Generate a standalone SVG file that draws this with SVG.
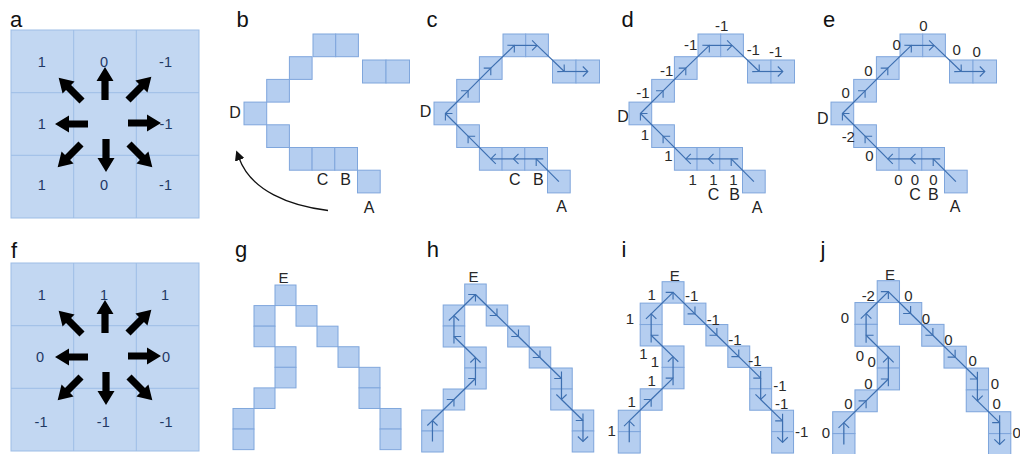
<svg xmlns="http://www.w3.org/2000/svg" xmlns:xlink="http://www.w3.org/1999/xlink" width="1020" height="454" viewBox="0 0 1020 454">
<style>
.bg{fill:#ffffff}
.grid{fill:#c2d7f2;stroke:#9dbde6;stroke-width:1}
.gl{stroke:#9dbde6;stroke-width:1}
.cell{fill:#b5cef0;stroke:#7fa6dc;stroke-width:1}
.conn line{stroke:#3d6fb0;stroke-width:1.2;fill:none;marker-end:url(#chev)}
.pl{font-family:"Liberation Sans",Arial,sans-serif;font-size:22px;fill:#111}
.lt{font-family:"Liberation Sans",Arial,sans-serif;font-size:16px;fill:#222;text-anchor:middle}
.nm{font-family:"Liberation Sans",Arial,sans-serif;font-size:15px;fill:#2a2a2a;text-anchor:middle}
.gn{font-family:"Liberation Sans",Arial,sans-serif;font-size:14.5px;fill:#1f3864;text-anchor:middle}
</style>
<defs>
<marker id="chev" viewBox="-7 -6 8 12" refX="0" refY="0" markerWidth="8" markerHeight="12" markerUnits="userSpaceOnUse" orient="auto">
<path d="M-5,-5 L0,0 L-5,5" fill="none" stroke="#3d6fb0" stroke-width="1.1"/>
</marker>
<marker id="solid" viewBox="0 0 10 10" refX="2" refY="5" markerWidth="10" markerHeight="10" markerUnits="userSpaceOnUse" orient="auto">
<path d="M0,0 L10,5 L0,10 Z" fill="#111"/>
</marker>
<path id="bigArrow" d="M0,-3.6 L19,-3.6 L19,-8.5 L33,0 L19,8.5 L19,3.6 L0,3.6 Z" fill="#000"/>
<g id="grid9">
<rect class="grid" x="11" y="30" width="188" height="188"/>
<line class="gl" x1="73.7" y1="30" x2="73.7" y2="218"/>
<line class="gl" x1="136.3" y1="30" x2="136.3" y2="218"/>
<line class="gl" x1="11" y1="92.7" x2="199" y2="92.7"/>
<line class="gl" x1="11" y1="155.3" x2="199" y2="155.3"/>
<use xlink:href="#bigArrow" transform="translate(105,100) rotate(-90)"/>
<use xlink:href="#bigArrow" transform="translate(106,139) rotate(90)"/>
<use xlink:href="#bigArrow" transform="translate(88,124) rotate(180)"/>
<use xlink:href="#bigArrow" transform="translate(128,123)"/>
<use xlink:href="#bigArrow" transform="translate(82,101) rotate(-135)"/>
<use xlink:href="#bigArrow" transform="translate(128,100) rotate(-45)"/>
<use xlink:href="#bigArrow" transform="translate(81,144) rotate(135)"/>
<use xlink:href="#bigArrow" transform="translate(129,144) rotate(45)"/>
</g>
<g id="topCells">
<rect class="cell" x="0" y="68.1" width="22.7" height="22.7"/>
<rect class="cell" x="22.7" y="45.4" width="22.7" height="22.7"/>
<rect class="cell" x="45.4" y="22.7" width="22.7" height="22.7"/>
<rect class="cell" x="69" y="0" width="22.7" height="22.7"/>
<rect class="cell" x="91.7" y="0" width="22.7" height="22.7"/>
<rect class="cell" x="118.5" y="26" width="23.5" height="23"/>
<rect class="cell" x="142" y="26" width="23.5" height="23"/>
<rect class="cell" x="22.7" y="90.8" width="22.7" height="22.7"/>
<rect class="cell" x="45.4" y="113.5" width="22.7" height="22.7"/>
<rect class="cell" x="68.1" y="113.5" width="22.7" height="22.7"/>
<rect class="cell" x="90.8" y="113.5" width="22.7" height="22.7"/>
<rect class="cell" x="113.5" y="136.2" width="22.7" height="22.7"/>
</g>
<g id="topPath" class="conn">
<line x1="124.9" y1="147.6" x2="102.2" y2="124.9"/>
<line x1="102.2" y1="124.9" x2="79.5" y2="124.9"/>
<line x1="79.5" y1="124.9" x2="56.8" y2="124.9"/>
<line x1="56.8" y1="124.9" x2="34.1" y2="102.2"/>
<line x1="34.1" y1="102.2" x2="11.4" y2="79.5"/>
<line x1="11.4" y1="79.5" x2="34.1" y2="56.8"/>
<line x1="34.1" y1="56.8" x2="56.8" y2="34.1"/>
<line x1="56.8" y1="34.1" x2="80.4" y2="11.4"/>
<line x1="80.4" y1="11.4" x2="103.1" y2="11.4"/>
<line x1="103.1" y1="11.4" x2="130.3" y2="37.5"/>
<line x1="130.3" y1="37.5" x2="153.8" y2="37.5"/>
</g>
<g id="botCells">
<rect class="cell" x="42" y="0" width="21" height="21"/>
<rect class="cell" x="21" y="21" width="21" height="21"/>
<rect class="cell" x="21" y="42" width="21" height="21"/>
<rect class="cell" x="42" y="63" width="21" height="21"/>
<rect class="cell" x="42" y="84" width="21" height="21"/>
<rect class="cell" x="21" y="105" width="21" height="21"/>
<rect class="cell" x="0" y="126" width="21" height="21"/>
<rect class="cell" x="0" y="147" width="21" height="21"/>
<rect class="cell" x="63" y="21" width="21" height="21"/>
<rect class="cell" x="84" y="42" width="21" height="21"/>
<rect class="cell" x="105" y="63" width="21" height="21"/>
<rect class="cell" x="126" y="84" width="21" height="21"/>
<rect class="cell" x="126" y="105" width="21" height="21"/>
<rect class="cell" x="147" y="126" width="21" height="21"/>
<rect class="cell" x="147" y="147" width="21" height="21"/>
</g>
<g id="botPath" class="conn">
<line x1="10.5" y1="157.5" x2="10.5" y2="136.5"/>
<line x1="10.5" y1="136.5" x2="31.5" y2="115.5"/>
<line x1="31.5" y1="115.5" x2="52.5" y2="94.5"/>
<line x1="52.5" y1="94.5" x2="52.5" y2="73.5"/>
<line x1="52.5" y1="73.5" x2="31.5" y2="52.5"/>
<line x1="31.5" y1="52.5" x2="31.5" y2="31.5"/>
<line x1="31.5" y1="31.5" x2="52.5" y2="10.5"/>
<line x1="52.5" y1="10.5" x2="73.5" y2="31.5"/>
<line x1="73.5" y1="31.5" x2="94.5" y2="52.5"/>
<line x1="94.5" y1="52.5" x2="115.5" y2="73.5"/>
<line x1="115.5" y1="73.5" x2="136.5" y2="94.5"/>
<line x1="136.5" y1="94.5" x2="136.5" y2="115.5"/>
<line x1="136.5" y1="115.5" x2="157.5" y2="136.5"/>
<line x1="157.5" y1="136.5" x2="157.5" y2="157.5"/>
</g>
</defs>
<rect class="bg" x="0" y="0" width="1020" height="454"/>

<g id="panel-a">
<text class="pl" x="10" y="26.5">a</text>
<use xlink:href="#grid9"/>
<text class="gn" x="41.7" y="66.7">1</text>
<text class="gn" x="104" y="66.7">0</text>
<text class="gn" x="165.5" y="66.7">-1</text>
<text class="gn" x="41.7" y="129">1</text>
<text class="gn" x="166" y="129">-1</text>
<text class="gn" x="41.7" y="190">1</text>
<text class="gn" x="104" y="190">0</text>
<text class="gn" x="165.5" y="190">-1</text>
</g>

<g id="panel-f">
<text class="pl" x="11" y="258.3">f</text>
<use xlink:href="#grid9" transform="translate(0,233)"/>
<text class="gn" x="41.7" y="300">1</text>
<text class="gn" x="104" y="300">1</text>
<text class="gn" x="165" y="300">1</text>
<text class="gn" x="40" y="361.7">0</text>
<text class="gn" x="166" y="361.7">0</text>
<text class="gn" x="41" y="426.7">-1</text>
<text class="gn" x="103.3" y="426.7">-1</text>
<text class="gn" x="166" y="426.7">-1</text>
</g>

<g id="panel-b">
<text class="pl" x="236.5" y="26.5">b</text>
<use xlink:href="#topCells" transform="translate(244,34)"/>
<text class="lt" x="235" y="118">D</text>
<text class="lt" x="322.5" y="185">C</text>
<text class="lt" x="345.5" y="185">B</text>
<text class="lt" x="369" y="213">A</text>
<path d="M328,210.5 C290,206 251,191 239,158" fill="none" stroke="#111" stroke-width="1.3" marker-end="url(#solid)"/>
</g>

<g id="panel-c">
<text class="pl" x="426.5" y="26.5">c</text>
<use xlink:href="#topCells" transform="translate(434,34)"/>
<g id="connectors-c"><use xlink:href="#topPath" transform="translate(434,34)"/></g>
<text class="lt" x="425.5" y="117">D</text>
<text class="lt" x="514.7" y="184.5">C</text>
<text class="lt" x="538.3" y="184.5">B</text>
<text class="lt" x="561.7" y="212">A</text>
</g>

<g id="panel-d">
<text class="pl" x="621.5" y="26.5">d</text>
<use xlink:href="#topCells" transform="translate(629,34)"/>
<g id="connectors-d"><use xlink:href="#topPath" transform="translate(629,34)"/></g>
<text class="lt" x="623" y="121.7">D</text>
<text class="lt" x="713.5" y="200">C</text>
<text class="lt" x="734.7" y="200">B</text>
<text class="lt" x="757" y="213">A</text>
<text class="nm" x="721.7" y="30.7">-1</text>
<text class="nm" x="690.7" y="50">-1</text>
<text class="nm" x="753.3" y="55">-1</text>
<text class="nm" x="775.7" y="56.7">-1</text>
<text class="nm" x="666.7" y="76">-1</text>
<text class="nm" x="643" y="98.3">-1</text>
<text class="nm" x="645" y="140">1</text>
<text class="nm" x="668.3" y="160.7">1</text>
<text class="nm" x="692.7" y="185">1</text>
<text class="nm" x="713.3" y="185">1</text>
<text class="nm" x="733.3" y="185">1</text>
</g>

<g id="panel-e">
<text class="pl" x="823" y="26.5">e</text>
<use xlink:href="#topCells" transform="translate(831,34)"/>
<g id="connectors-e"><use xlink:href="#topPath" transform="translate(831,34)"/></g>
<text class="lt" x="822.7" y="124">D</text>
<text class="lt" x="915" y="200">C</text>
<text class="lt" x="933.3" y="200">B</text>
<text class="lt" x="955" y="211.7">A</text>
<text class="nm" x="923.3" y="30.7">0</text>
<text class="nm" x="896.7" y="50">0</text>
<text class="nm" x="956.7" y="55">0</text>
<text class="nm" x="976.7" y="56.7">0</text>
<text class="nm" x="868.3" y="76">0</text>
<text class="nm" x="845.7" y="98.3">0</text>
<text class="nm" x="848.3" y="141.7">-2</text>
<text class="nm" x="869.3" y="160.7">0</text>
<text class="nm" x="898.3" y="185">0</text>
<text class="nm" x="915" y="185">0</text>
<text class="nm" x="933.3" y="185">0</text>
</g>

<g id="panel-g">
<text class="pl" x="235" y="256.7">g</text>
<use xlink:href="#botCells" transform="translate(233,285) scale(1,0.98)"/>
<text class="nm" x="283.5" y="283">E</text>
</g>

<g id="panel-h">
<text class="pl" x="426.7" y="256.7">h</text>
<use xlink:href="#botCells" transform="translate(421.7,284) scale(1.024,1)"/>
<g id="connectors-h"><use xlink:href="#botPath" transform="translate(421.7,284) scale(1.024,1)"/></g>
<text class="nm" x="473.5" y="281.7">E</text>
</g>

<g id="panel-i">
<text class="pl" x="621.5" y="256.7">i</text>
<use xlink:href="#botCells" transform="translate(618.3,281.7) scale(1.043,1.02)"/>
<g id="connectors-i"><use xlink:href="#botPath" transform="translate(618.3,281.7) scale(1.043,1.02)"/></g>
<text class="nm" x="674.7" y="280.7">E</text>
<text class="nm" x="651.7" y="300">1</text>
<text class="nm" x="691.7" y="300.7">-1</text>
<text class="nm" x="630" y="324">1</text>
<text class="nm" x="713.3" y="325">-1</text>
<text class="nm" x="735" y="345">-1</text>
<text class="nm" x="643.3" y="359.3">1</text>
<text class="nm" x="655" y="367.3">1</text>
<text class="nm" x="755" y="366">-1</text>
<text class="nm" x="651.7" y="386">1</text>
<text class="nm" x="780" y="390.7">-1</text>
<text class="nm" x="631.7" y="406.7">1</text>
<text class="nm" x="781.7" y="409.3">-1</text>
<text class="nm" x="611.7" y="436">1</text>
<text class="nm" x="801.7" y="437.3">-1</text>
</g>

<g id="panel-j">
<text class="pl" x="820.5" y="256.7">j</text>
<use xlink:href="#botCells" transform="translate(832.7,280.7) scale(1.06,1.04)"/>
<g id="connectors-j"><use xlink:href="#botPath" transform="translate(832.7,280.7) scale(1.06,1.04)"/></g>
<text class="nm" x="890" y="280">E</text>
<text class="nm" x="868.3" y="300.7">-2</text>
<text class="nm" x="908.3" y="300.7">0</text>
<text class="nm" x="845" y="322.7">0</text>
<text class="nm" x="926" y="324">0</text>
<text class="nm" x="948.3" y="345">0</text>
<text class="nm" x="860" y="360.7">0</text>
<text class="nm" x="871.7" y="367.3">0</text>
<text class="nm" x="972.7" y="366">0</text>
<text class="nm" x="868.3" y="389.3">0</text>
<text class="nm" x="995" y="389.3">0</text>
<text class="nm" x="848.3" y="409.3">0</text>
<text class="nm" x="996.7" y="409.3">0</text>
<text class="nm" x="826" y="438.3">0</text>
<text class="nm" x="1016.7" y="438.3">0</text>
</g>
</svg>
